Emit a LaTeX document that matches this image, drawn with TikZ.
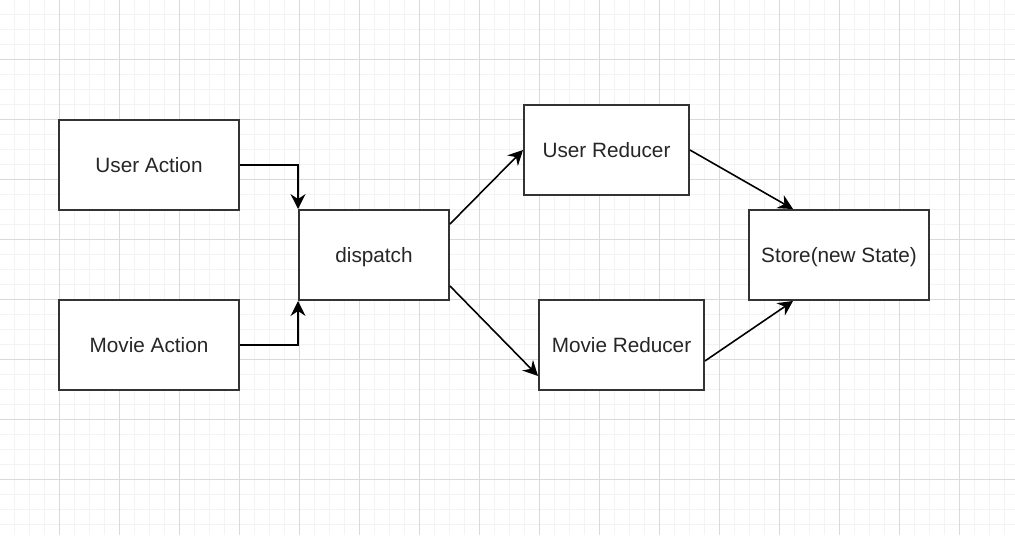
\documentclass[tikz,border=0pt]{standalone}
\usepackage{fontspec}
\setmainfont{Liberation Sans}
\usetikzlibrary{arrows.meta}
\definecolor{gridmajor}{HTML}{DADADA}
\definecolor{gridminor}{HTML}{F3F3F3}
\definecolor{boxline}{HTML}{333333}
\tikzset{
  box/.style={draw=boxline, line width=1.1pt, fill=white, rectangle, inner sep=0pt,
    font=\fontsize{11.8pt}{14pt}\selectfont, text=black!85, text height=8.5pt, text depth=0pt},
  arr/.style={draw=black, line width=0.9pt, -{Stealth[length=8.5pt,width=8.5pt,inset=2.8pt]}},
}
\begin{document}
\begin{tikzpicture}[x=0.02cm,y=-0.02cm]
\useasboundingbox (0,0) rectangle (1015,535);
\fill[white] (0,0) rectangle (1015,535);
% minor grid
\foreach \x in {-1,14,...,1015} \draw[gridminor, line width=0.5pt] (\x,0) -- (\x,535);
\foreach \y in {-1,14,...,535} \draw[gridminor, line width=0.5pt] (0,\y) -- (1015,\y);
% major grid
\foreach \x in {59,119,...,1015} \draw[gridmajor, line width=0.5pt] (\x,0) -- (\x,535);
\foreach \y in {59,119,...,535} \draw[gridmajor, line width=0.5pt] (0,\y) -- (1015,\y);

\node[box, minimum width=3.6cm, minimum height=1.8cm] (ua) at (149,165) {User Action};
\node[box, minimum width=3.6cm, minimum height=1.8cm] (ma) at (149,345) {Movie Action};
\node[box, minimum width=3.0cm, minimum height=1.8cm] (dp) at (374,255) {dispatch};
\node[box, minimum width=3.3cm, minimum height=1.8cm] (ur) at (606.5,150) {User Reducer};
\node[box, minimum width=3.3cm, minimum height=1.8cm] (mr) at (621.5,345) {Movie Reducer};
\node[box, minimum width=3.6cm, minimum height=1.8cm] (st) at (839,255) {Store(new State)};

\draw[arr] (ua.east) -| (dp.north west);
\draw[arr] (ma.east) -| (dp.south west);
\draw[arr] ([yshift=-0.3cm]dp.north east) -- (ur.west);
\draw[arr] ([yshift=0.3cm]dp.south east) -- ([yshift=0.3cm]mr.south west);
\draw[arr] (ur.east) -- ([xshift=0.9cm]st.north west);
\draw[arr] ([yshift=0.6cm]mr.south east) -- ([xshift=0.9cm]st.south west);
\end{tikzpicture}
\end{document}
